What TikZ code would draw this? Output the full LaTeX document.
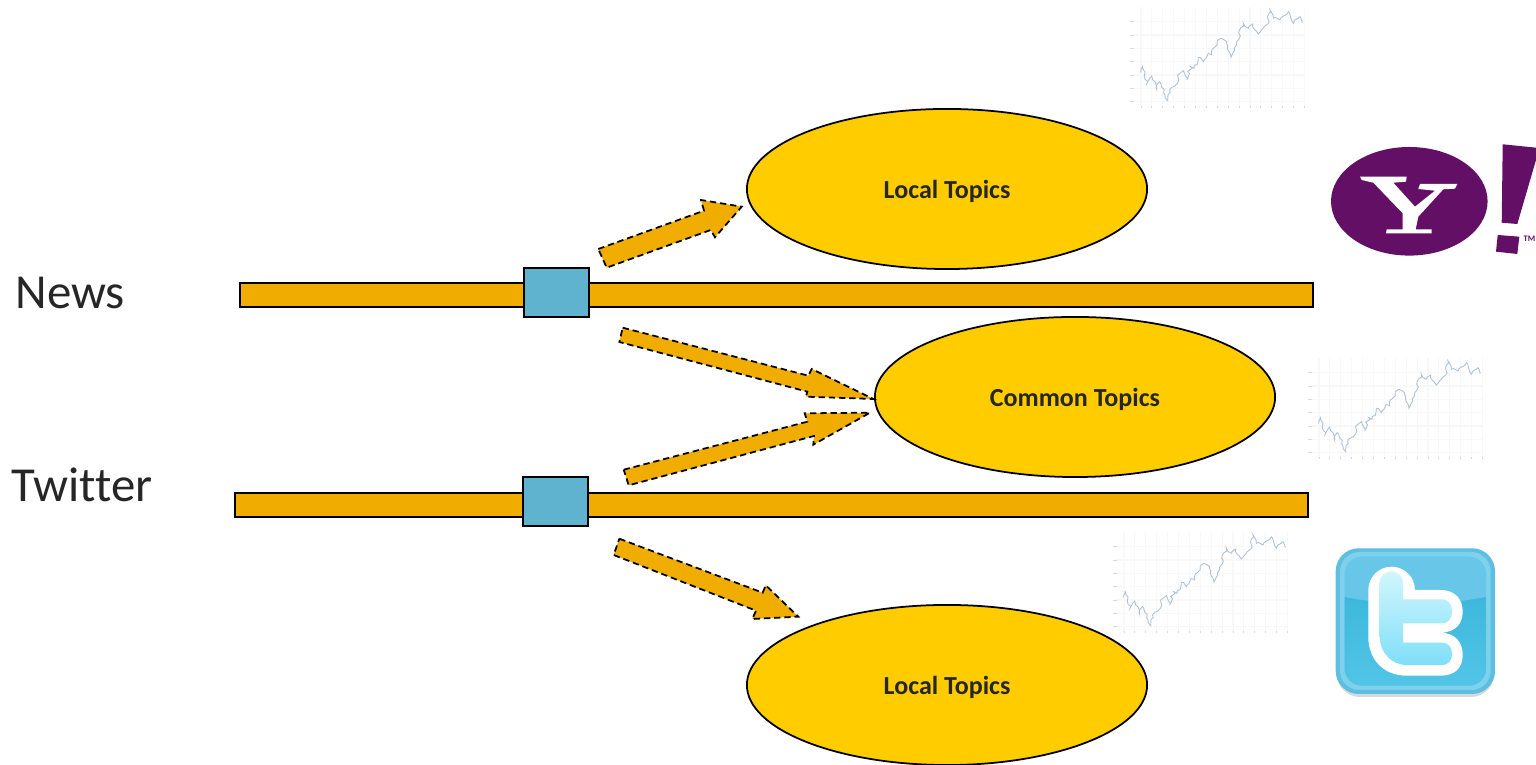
\documentclass[tikz,border=0pt]{standalone}
\usepackage{fontspec}
\setmainfont{Carlito}[Ligatures=NoCommon]
\usepackage{tikz}
\usetikzlibrary{shapes.geometric,decorations.pathmorphing}
\definecolor{topicyellow}{HTML}{FFCC00}
\definecolor{baramber}{HTML}{F0AD00}
\definecolor{boxblue}{HTML}{5FB3CE}
\definecolor{yahoopurple}{HTML}{630F65}
\definecolor{chartline}{HTML}{AFC1D6}
\definecolor{chartgrid}{HTML}{F7F8FA}
\definecolor{birdouter}{HTML}{5CBFE2}
\definecolor{birdrim}{HTML}{7FD0EA}
\definecolor{birdupper}{HTML}{68C7E8}
\definecolor{birdlower}{HTML}{3DB8DB}
\definecolor{birdbottom}{HTML}{52C5E7}
\definecolor{birdlight}{HTML}{D2F6FD}
\definecolor{birdmid}{HTML}{7FDFF8}
\tikzset{
    topic/.style={ellipse,draw=black,line width=0.5pt,fill=topicyellow,minimum width=4cm,minimum height=1.6cm,inner sep=0pt,text depth=0pt,text=black!85,font=\bfseries\fontsize{7.4}{9}\selectfont},
    source/.style={anchor=west,inner sep=0pt,text=black!85,font=\fontsize{13.9}{17}\selectfont},
    timebar/.style={draw=black,line width=0.5pt,fill=baramber},
    windowbox/.style={draw=black,line width=0.6pt,fill=boxblue},
    blockarrow/.style={draw=black,line width=0.5pt,fill=baramber,dash pattern=on 1.8pt off 1.1pt}
}
\newcommand{\pricechart}[1]{
    \begin{scope}[shift={#1}]
        \foreach \x in {0,...,15} {
            \draw[chartgrid,line width=0.3pt] (1141+\x*10.9,7) -- (1141+\x*10.9,107);
            \draw[gray!30,line width=0.25pt] (1141+\x*10.9,106) -- (1141+\x*10.9,108);
        }
        \foreach \y in {0,...,6} {
            \draw[chartgrid,line width=0.3pt] (1133,21.7+\y*13.33) -- (1304,21.7+\y*13.33);
            \draw[gray!30,line width=0.25pt] (1130,21.7+\y*13.33) -- (1134,21.7+\y*13.33);
        }
        \pgfmathsetseed{7}
        \draw[chartline,line width=0.25pt,decorate,decoration={random steps,segment length=0.8pt,amplitude=0.45pt}]
            (1140.7,72.7) -- (1142,65.7) -- (1144.3,76) -- (1147.3,82.7) -- (1151.7,76) -- (1155,81.7) -- (1156.7,89.3)
            -- (1159.3,81.7) -- (1161.7,87.3) -- (1167.7,100.7) -- (1171.7,87.3) -- (1175,86) -- (1180,73.3) -- (1183.3,70.7)
            -- (1186.7,80) -- (1190.7,66.7) -- (1194,68.3) -- (1198.3,57.3) -- (1203.3,61.7) -- (1208.3,53.3) -- (1211.7,55)
            -- (1217.3,40.7) -- (1220.7,38.3) -- (1226.7,41.7) -- (1231,57.3) -- (1236.7,41.7) -- (1243.3,23.3) -- (1248.3,28.3)
            -- (1252.7,24) -- (1258.3,34) -- (1263.3,28.3) -- (1267.7,24) -- (1270,10) -- (1273.3,18.3) -- (1280,20)
            -- (1288.3,11.7) -- (1293.3,23.3) -- (1300,16.7) -- (1302.3,22.7);
    \end{scope}
}
\begin{document}
\begin{tikzpicture}[x=0.01cm,y=-0.01cm]
    \useasboundingbox (0,0) rectangle (1536,765);

    \pricechart{(0,0)}
    \pricechart{(178,351)}
    \pricechart{(-17,525)}

    \draw[timebar] (240,283) rectangle (1313,307);
    \draw[timebar] (235,493) rectangle (1308,517);
    \draw[windowbox] (524,268) rectangle (589,317);
    \draw[windowbox] (523,477) rectangle (588,526);

    \node[topic] (localtop) at (947,189) {Local Topics};
    \node[topic] (common) at (1075,397) {Common Topics};
    \node[topic] (localbottom) at (947,685) {Local Topics};

    \node[source] (news) at (15,293) {News};
    \node[source] (twitter) at (11,485) {Twitter};

    \draw[blockarrow] (598.3,249) -- (704,210.7) -- (701,200) -- (741.7,206.7) -- (715,237.3) -- (710.7,230) -- (606.7,267.7) -- cycle;
    \draw[blockarrow] (622.7,327.7) -- (808.3,375.7) -- (811.7,369) -- (873.3,399) -- (806,396.7) -- (807.3,391.7) -- (619.3,342) -- cycle;
    \draw[blockarrow] (623.7,469.7) -- (807.3,421.7) -- (804.7,413.3) -- (870,412.7) -- (813.3,444.7) -- (814,436) -- (628.7,485.3) -- cycle;
    \draw[blockarrow] (619.3,538.7) -- (762.7,592.7) -- (765.7,585.3) -- (798.3,616.7) -- (752.3,619) -- (756,610.7) -- (613.7,555) -- cycle;

    \fill[yahoopurple] (1409.3,201.3) ellipse [x radius=78.3,y radius=54.3];
    \fill[white] (1360,176.7) -- (1406.7,176.7) -- (1406,181.7) -- (1393.3,182.7) -- (1415,206.7) -- (1435,190.7) -- (1418.3,189) -- (1420,184) -- (1457.3,184) -- (1455,188.7) -- (1443.3,189.3) -- (1418.3,216.7) -- (1415.7,229.3) -- (1431.7,229.3) -- (1431.7,233.3) -- (1386,233.3) -- (1386.7,229.3) -- (1402.7,229.3) -- (1402.7,213.3) -- (1373.3,182.7) -- (1361.7,180) -- cycle;
    \fill[yahoopurple] (1502.7,144.3) -- (1536,147.7) -- (1536,160) -- (1517.3,224) -- (1501.7,222.7) -- cycle;
    \fill[yahoopurple] (1497.7,235) -- (1519.3,236.7) -- (1517.3,254) -- (1496,251.7) -- cycle;
    \node[inner sep=0pt,text=yahoopurple,font=\bfseries\fontsize{2.4}{3}\selectfont] (trademark) at (1529.5,238.5) {TM};

    \fill[gray!60,opacity=0.5,rounded corners=6.5pt] (1337,570) rectangle (1494,697);
    \fill[birdouter,rounded corners=6.5pt] (1335.7,548.3) rectangle (1495,694);
    \fill[birdrim,rounded corners=5.5pt] (1340,552) rectangle (1490.7,690);
    \fill[birdupper,rounded corners=5pt] (1344.5,556.5) rectangle (1486.2,685.7);
    \path[bottom color=birdbottom,top color=birdlower] (1344.5,597) .. controls (1390,606) and (1440,606) .. (1486.2,597) [rounded corners=5pt] -- (1486.2,685.7) -- (1344.5,685.7) [sharp corners] -- cycle;
    \fill[white] (1368.3,590) arc (180:360:23.3) -- (1440,590) .. controls (1456,590) and (1462.7,600) .. (1462.7,611.7) .. controls (1462.7,623) and (1456,632.7) .. (1440,632.7) .. controls (1456,632.7) and (1462.7,643) .. (1462.7,655) .. controls (1462.7,667) and (1456,675.7) .. (1440,675.7) -- (1406.7,675.7) .. controls (1384,675.7) and (1368.3,660) .. (1368.3,636.7) -- cycle;
    \path[top color=birdlight,bottom color=birdmid] (1379.7,583) arc (180:360:11.7) -- (1403.1,599.3) -- (1441.7,599.3) .. controls (1449,599.3) and (1452,605) .. (1452,611.7) .. controls (1452,618) and (1449,623.3) .. (1441.7,623.3) -- (1403.1,623.3) -- (1403.1,642.7) -- (1441.7,642.7) .. controls (1449,642.7) and (1452,648) .. (1452,654) .. controls (1452,660) and (1449,665) .. (1441.7,665) -- (1406.7,665) .. controls (1391,665) and (1379.7,652) .. (1379.7,636.7) -- cycle;
\end{tikzpicture}
\end{document}
